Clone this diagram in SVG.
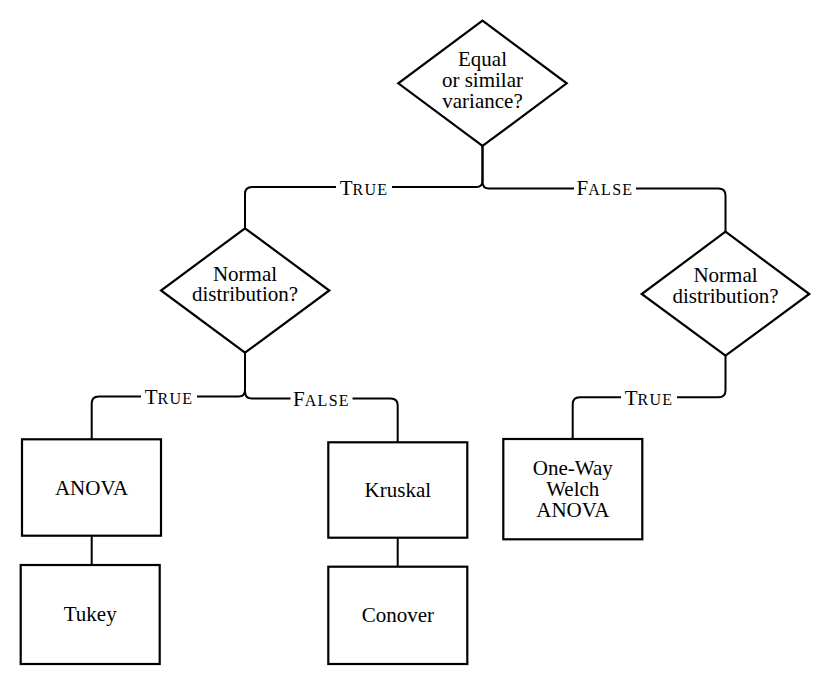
<svg xmlns="http://www.w3.org/2000/svg" width="831" height="685" viewBox="0 0 831 685" font-family="Liberation Serif, DejaVu Serif, serif">
<style>
.shape{fill:#fff;stroke:#000;stroke-width:2.2;stroke-linejoin:miter}
.conn{fill:none;stroke:#000;stroke-width:2}
.t{font-family:"Liberation Serif","DejaVu Serif",serif;font-size:21px;fill:#000;text-anchor:middle}
.sc{font-size:16px;letter-spacing:1.3px}
.bg{fill:#fff;stroke:none}
</style>
<rect width="831" height="685" fill="#fff"/>
<g id="connectors">
<path class="conn" d="M482.5 146 V181 Q482.5 187 476.5 187 H252 Q245 187 245 194 V228.3"/>
<path class="conn" d="M482.5 146 V182 Q482.5 188.5 489 188.5 H718.5 Q725.5 188.5 725.5 195.5 V231.7"/>
<path class="conn" d="M245 352.7 V390 Q245 396.5 238.5 396.5 H98.7 Q91.7 396.5 91.7 403.5 V439.3"/>
<path class="conn" d="M245 352.7 V391.5 Q245 398.5 252 398.5 H390.7 Q397.7 398.5 397.7 405.5 V442.3"/>
<path class="conn" d="M725.5 355.7 V390.3 Q725.5 397.3 718.5 397.3 H579.7 Q572.7 397.3 572.7 404.3 V439"/>
<path class="conn" d="M91.7 535.7 V565"/>
<path class="conn" d="M397.7 537.7 V566.7"/>
<g id="labels">
<rect class="bg" x="336" y="178" width="56" height="20"/>
<text class="t" x="364" y="195">T<tspan class="sc">RUE</tspan></text>
<rect class="bg" x="574" y="178" width="62" height="20"/>
<text class="t" x="605" y="195">F<tspan class="sc">ALSE</tspan></text>
<rect class="bg" x="141" y="387" width="56" height="20"/>
<text class="t" x="169" y="404">T<tspan class="sc">RUE</tspan></text>
<rect class="bg" x="290.5" y="389" width="62" height="20"/>
<text class="t" x="321.5" y="406">F<tspan class="sc">ALSE</tspan></text>
<rect class="bg" x="621" y="388" width="56" height="20"/>
<text class="t" x="649" y="405">T<tspan class="sc">RUE</tspan></text>
</g>
</g>
<g id="variance">
<polygon class="shape" points="482.5,20.7 566.7,83.3 482.5,146 398.3,83.3"/>
<text class="t" x="482.5" y="66">Equal</text>
<text class="t" x="482.5" y="87.3">or similar</text>
<text class="t" x="482.5" y="108">variance?</text>
</g>
<g id="normal-left">
<polygon class="shape" points="245,228.3 329.3,290.5 245,352.7 161,290.5"/>
<text class="t" x="245" y="280.5">Normal</text>
<text class="t" x="245" y="301">distribution?</text>
</g>
<g id="normal-right">
<polygon class="shape" points="725.5,231.7 809.3,294 725.5,355.7 641.7,294"/>
<text class="t" x="725.5" y="282">Normal</text>
<text class="t" x="725.5" y="302.5">distribution?</text>
</g>
<g id="anova">
<rect class="shape" x="22" y="439.3" width="139" height="96.4"/>
<text class="t" x="91.5" y="494.5">ANOVA</text>
</g>
<g id="tukey">
<rect class="shape" x="20.7" y="565" width="139" height="99"/>
<text class="t" x="90.2" y="621">Tukey</text>
</g>
<g id="kruskal">
<rect class="shape" x="328.3" y="442.3" width="139" height="95.4"/>
<text class="t" x="397.8" y="497">Kruskal</text>
</g>
<g id="conover">
<rect class="shape" x="328.3" y="566.7" width="139" height="97.3"/>
<text class="t" x="397.8" y="622">Conover</text>
</g>
<g id="welch">
<rect class="shape" x="503.3" y="439" width="139" height="100.3"/>
<text class="t" x="572.8" y="474.5">One-Way</text>
<text class="t" x="572.8" y="496">Welch</text>
<text class="t" x="572.8" y="517">ANOVA</text>
</g>
</svg>
